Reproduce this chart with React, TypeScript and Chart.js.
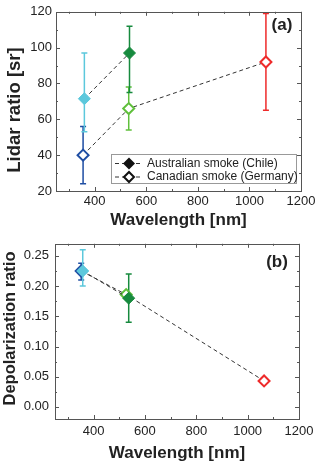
import React, { useEffect, useRef } from "react";
import { Chart, registerables } from "chart.js";
Chart.register(...registerables);

const FONT = "'Liberation Sans', Arial, Helvetica, sans-serif";

// ---- shared axis data ----
const xTicks = [400, 600, 800, 1000, 1200];
const xTickLabels = ["400", "600", "800", "1000", "1200"];
const xMinorTicks = [300, 500, 700, 900, 1100];

// ---- panel (a): lidar ratio ----
const lidarTicks = [20, 40, 60, 80, 100, 120];
const lidarTickLabels = ["20", "40", "60", "80", "100", "120"];
const lidarMinorTicks = [30, 50, 70, 90, 110];

const ausWavelengthA = [360, 535];
const ausLidar = [71.5, 97];
const ausLidarLow = [53, 75];
const ausLidarHigh = [97, 112];

const canWavelengthA = [355, 532, 1064];
const canLidar = [40, 66, 92];
const canLidarLow = [24, 54, 65];
const canLidarHigh = [56, 78, 119];

// ---- panel (b): depolarization ratio ----
const depolTicks = [0, 0.05, 0.1, 0.15, 0.2, 0.25];
const depolTickLabels = ["0.00", "0.05", "0.10", "0.15", "0.20", "0.25"];
const depolMinorTicks = [0.025, 0.075, 0.125, 0.175, 0.225];

const ausWavelengthB = [358, 537];
const ausDepol = [0.225, 0.18];
const ausDepolLow = [0.2, 0.14];
const ausDepolHigh = [0.26, 0.22];

const canWavelengthB = [352, 527, 1064];
const canDepol = [0.225, 0.186, 0.043];
const canDepolLow = [0.21, 0.18, 0.043];
const canDepolHigh = [0.238, 0.19, 0.043];

// ---- colours ----
const ausColors = ["#5cc8dc", "#178a3e"];
const canColors = ["#1f4ea3", "#60c03c", "#ee2b2b"];

const legendLabels = ["Australian smoke (Chile)", "Canadian smoke (Germany)"];

const framePlugin = {
  id: "frame",
  beforeDatasetsDraw(chart: any) {
    const ctx = chart.ctx;
    const xs = chart.scales.x;
    const ys = chart.scales.y;
    const sets = chart.data.datasets.slice().reverse();
    sets.forEach((ds: any) => {
      if (!ds.errLow) return;
      ds.data.forEach((p: any, i: number) => {
        const x = xs.getPixelForValue(p.x);
        const y1 = ys.getPixelForValue(ds.errLow[i]);
        const y2 = ys.getPixelForValue(ds.errHigh[i]);
        if (Math.abs(y1 - y2) < 1) return;
        ctx.save();
        ctx.strokeStyle = ds.pointBorderColor[i];
        ctx.lineWidth = 1.5;
        ctx.beginPath();
        ctx.moveTo(x, y1);
        ctx.lineTo(x, y2);
        ctx.moveTo(x - 3, y1);
        ctx.lineTo(x + 3, y1);
        ctx.moveTo(x - 3, y2);
        ctx.lineTo(x + 3, y2);
        ctx.stroke();
        ctx.restore();
      });
    });
  },
  afterDraw(chart: any, _args: any, opts: any) {
    const ctx = chart.ctx;
    const { left, right, top, bottom } = chart.chartArea;
    const xs = chart.scales.x;
    const ys = chart.scales.y;
    ctx.save();
    ctx.strokeStyle = "#555";
    ctx.lineWidth = 1;
    ctx.strokeRect(Math.round(left) + 0.5, Math.round(top) + 0.5, Math.round(right - left), Math.round(bottom - top));
    ctx.beginPath();
    const drawX = (vals: number[], len: number) => {
      vals.forEach((v) => {
        const x = Math.round(xs.getPixelForValue(v)) + 0.5;
        ctx.moveTo(x, bottom);
        ctx.lineTo(x, bottom - len);
        ctx.moveTo(x, top);
        ctx.lineTo(x, top + len);
      });
    };
    const drawY = (vals: number[], len: number) => {
      vals.forEach((v) => {
        const y = Math.round(ys.getPixelForValue(v)) + 0.5;
        ctx.moveTo(left, y);
        ctx.lineTo(left + len, y);
        ctx.moveTo(right, y);
        ctx.lineTo(right - len, y);
      });
    };
    drawX(opts.xMajor, 4);
    drawX(opts.xMinor, 2);
    drawY(opts.yMajor, 4);
    drawY(opts.yMinor, 2);
    ctx.stroke();

    // y-axis title
    ctx.save();
    ctx.translate(opts.yTitleX, opts.yTitleY);
    ctx.rotate(-Math.PI / 2);
    ctx.fillStyle = "#222";
    ctx.font = `bold ${opts.yTitleSize}px ${FONT}`;
    ctx.textAlign = "center";
    ctx.textBaseline = "middle";
    ctx.fillText(opts.yTitle, 0, 0);
    ctx.restore();

    // panel label
    ctx.fillStyle = "#222";
    ctx.font = `bold 17px ${FONT}`;
    ctx.textAlign = "center";
    ctx.textBaseline = "middle";
    ctx.fillText(opts.panelLabel, opts.labelX, opts.labelY);

    if (opts.legend) {
      const lg = opts.legend;
      ctx.fillStyle = "#fff";
      ctx.fillRect(lg.x, lg.y, lg.w, lg.h);
      ctx.strokeStyle = "#999";
      ctx.lineWidth = 1;
      ctx.strokeRect(lg.x + 0.5, lg.y + 0.5, lg.w, lg.h);
      lg.labels.forEach((t: string, i: number) => {
        const cy = lg.y + lg.rowY[i];
        const mx = lg.x + 18;
        ctx.save();
        ctx.strokeStyle = "#333";
        ctx.lineWidth = 1;
        ctx.setLineDash([4, 3]);
        ctx.beginPath();
        ctx.moveTo(lg.x + 4, cy);
        ctx.lineTo(lg.x + 32, cy);
        ctx.stroke();
        ctx.restore();
        ctx.beginPath();
        const r = i === 0 ? 6 : 5;
        ctx.moveTo(mx - r, cy);
        ctx.lineTo(mx, cy - r);
        ctx.lineTo(mx + r, cy);
        ctx.lineTo(mx, cy + r);
        ctx.closePath();
        if (i === 0) {
          ctx.fillStyle = "#111";
          ctx.fill();
        } else {
          ctx.fillStyle = "#fff";
          ctx.fill();
          ctx.strokeStyle = "#111";
          ctx.lineWidth = 2;
          ctx.stroke();
        }
        ctx.fillStyle = "#222";
        ctx.font = `12px ${FONT}`;
        ctx.textAlign = "left";
        ctx.textBaseline = "middle";
        ctx.fillText(t, lg.x + 36, cy);
      });
    }
    ctx.restore();
  },
};

function buildConfig(p: any) {
  return {
    type: "scatter",
    data: {
      datasets: [
        {
          label: legendLabels[0],
          data: p.ausX.map((x: number, i: number) => ({ x, y: p.ausY[i] })),
          showLine: true,
          borderColor: "#333",
          borderWidth: 1,
          borderDash: [4, 3],
          pointStyle: "rectRot",
          pointRadius: 6,
          pointBackgroundColor: ausColors,
          pointBorderColor: ausColors,
          pointBorderWidth: 1,
          errLow: p.ausLow,
          errHigh: p.ausHigh,
        },
        {
          label: legendLabels[1],
          data: p.canX.map((x: number, i: number) => ({ x, y: p.canY[i] })),
          showLine: true,
          borderColor: "#333",
          borderWidth: 1,
          borderDash: [4, 3],
          pointStyle: "rectRot",
          pointRadius: 5.5,
          pointBackgroundColor: "#fff",
          pointBorderColor: canColors,
          pointBorderWidth: 2,
          errLow: p.canLow,
          errHigh: p.canHigh,
        },
      ],
    },
    options: {
      animation: false,
      responsive: false,
      layout: { padding: { left: 0, top: p.top, right: 320 - p.right, bottom: 0 } },
      plugins: {
        legend: { display: false },
        tooltip: { enabled: false },
        frame: {
          xMajor: xTicks,
          xMinor: xMinorTicks,
          yMajor: p.yTicks,
          yMinor: p.yMinor,
          panelLabel: p.panelLabel,
          labelX: p.labelX,
          labelY: p.labelY,
          legend: p.legend,
          yTitle: p.yTitle,
          yTitleSize: p.yTitleSize,
          yTitleX: p.yTitleX,
          yTitleY: p.yTitleY,
        },
      },
      scales: {
        x: {
          type: "linear",
          min: 250,
          max: 1200,
          afterBuildTicks: (s: any) => {
            s.ticks = xTicks.map((v) => ({ value: v }));
          },
          afterFit: (s: any) => {
            s.height = p.height - p.bottom;
          },
          ticks: {
            font: { family: FONT, size: 13 },
            color: "#222",
            padding: p.xLabelPad,
            maxRotation: 0,
            autoSkip: false,
            callback: (_v: any, i: number) => xTickLabels[i],
          },
          grid: { display: false, drawTicks: false },
          border: { display: false },
          title: {
            display: true,
            text: "Wavelength [nm]",
            color: "#222",
            font: { family: FONT, size: 17, weight: "bold", lineHeight: 1 },
            padding: { top: 0, bottom: p.xTitlePad },
          },
        },
        y: {
          type: "linear",
          min: p.yMin,
          max: p.yMax,
          afterBuildTicks: (s: any) => {
            s.ticks = p.yTicks.map((v: number) => ({ value: v }));
          },
          afterFit: (s: any) => {
            s.width = p.left;
          },
          ticks: {
            font: { family: FONT, size: 13 },
            color: "#222",
            padding: p.yLabelPad,
            autoSkip: false,
            callback: (_v: any, i: number) => p.yLabels[i],
          },
          grid: { display: false, drawTicks: false },
          border: { display: false },
          title: { display: false },
        },
      },
    },
    plugins: [framePlugin],
  };
}

export default function App() {
  const refA = useRef<HTMLCanvasElement>(null);
  const refB = useRef<HTMLCanvasElement>(null);
  useEffect(() => {
    const cfgA = buildConfig({
      ausX: ausWavelengthA,
      ausY: ausLidar,
      ausLow: ausLidarLow,
      ausHigh: ausLidarHigh,
      canX: canWavelengthA,
      canY: canLidar,
      canLow: canLidarLow,
      canHigh: canLidarHigh,
      yMin: 20,
      yMax: 120,
      yTicks: lidarTicks,
      yLabels: lidarTickLabels,
      yMinor: lidarMinorTicks,
      yTitle: "Lidar ratio [sr]",
      yTitleSize: 18.5,
      yTitleX: 15,
      yTitleY: 110,
      yLabelPad: 4,
      left: 56,
      right: 301,
      top: 8,
      bottom: 191,
      height: 230,
      xLabelPad: 3,
      xTitlePad: 1.5,
      panelLabel: "(a)",
      labelX: 282,
      labelY: 25,
      legend: { x: 111, y: 154, w: 185, h: 29, rowY: [9.5, 23], labels: legendLabels },
    });
    const cfgB = buildConfig({
      ausX: ausWavelengthB,
      ausY: ausDepol,
      ausLow: ausDepolLow,
      ausHigh: ausDepolHigh,
      canX: canWavelengthB,
      canY: canDepol,
      canLow: canDepolLow,
      canHigh: canDepolHigh,
      yMin: -0.02,
      yMax: 0.27,
      yTicks: depolTicks,
      yLabels: depolTickLabels,
      yMinor: depolMinorTicks,
      yTitle: "Depolarization ratio",
      yTitleSize: 16.5,
      yTitleX: 10,
      yTitleY: 98.5,
      yLabelPad: 6,
      left: 55,
      right: 299,
      top: 8,
      bottom: 189,
      height: 234,
      xLabelPad: 5,
      xTitlePad: 2.5,
      panelLabel: "(b)",
      labelX: 277,
      labelY: 32,
      legend: null,
    });
    const a = new Chart(refA.current as HTMLCanvasElement, cfgA as any);
    const b = new Chart(refB.current as HTMLCanvasElement, cfgB as any);
    return () => {
      a.destroy();
      b.destroy();
    };
  }, []);
  return (
    <div style={{ position: "absolute", left: 0, top: 0, width: 320, height: 464, background: "#fff" }}>
      <canvas ref={refA} width={320} height={230} style={{ display: "block" }} />
      <canvas ref={refB} width={320} height={234} style={{ display: "block" }} />
    </div>
  );
}
